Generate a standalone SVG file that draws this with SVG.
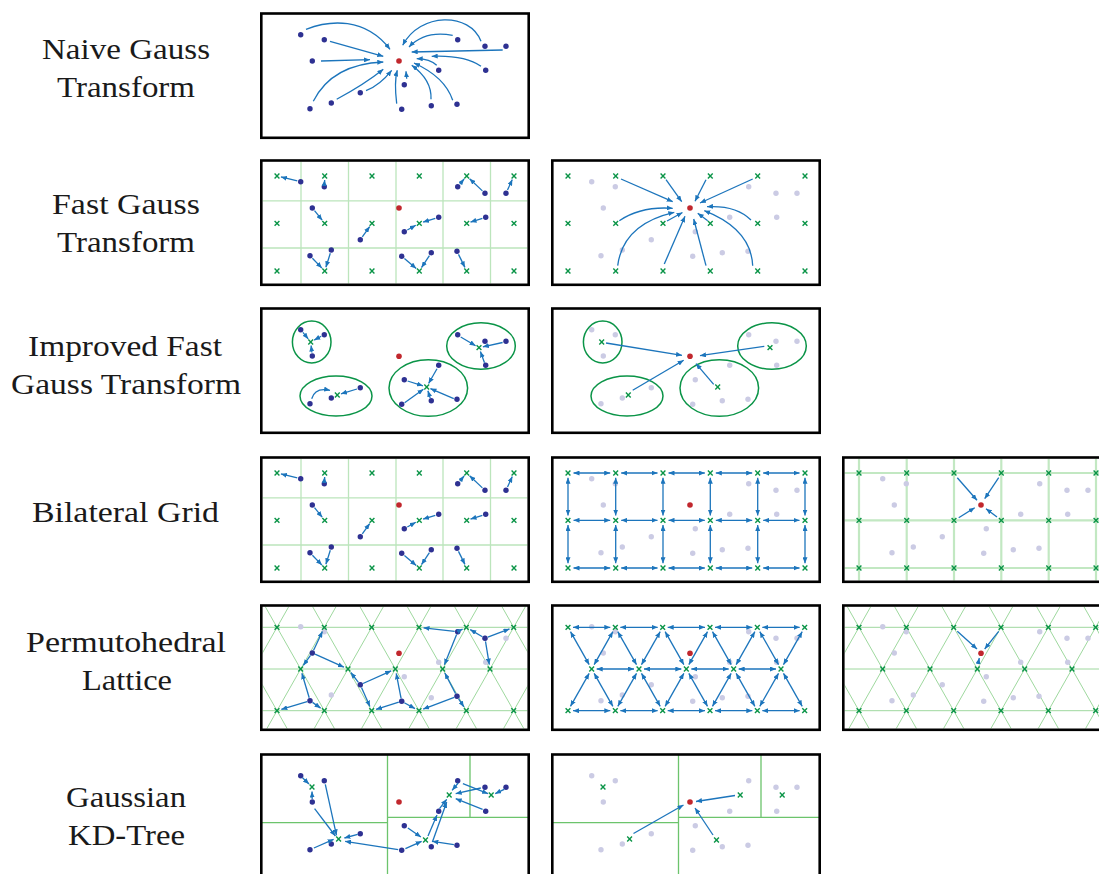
<svg xmlns="http://www.w3.org/2000/svg" width="1099" height="874" viewBox="0 0 1099 874">
<style>
.lbl{font-family:"Liberation Serif","Times New Roman",serif;font-size:30px;fill:#1a1a1a;text-anchor:middle}
.frame{fill:none;stroke:#000;stroke-width:2.6}
.ar{fill:none;stroke:#1C75BC;stroke-width:1.3;marker-end:url(#ah)}
.da{fill:none;stroke:#1C75BC;stroke-width:1.3;marker-end:url(#ah);marker-start:url(#ah)}
.grid{stroke:#BCE5BC;stroke-width:1.3;fill:none}
.grid2{stroke:#C2E8C2;stroke-width:2.2;fill:none}
.lat{stroke:#9ED89E;stroke-width:1;fill:none}
.kd{stroke:#6CC46C;stroke-width:1.3;fill:none}
.ell{fill:none;stroke:#0A9447;stroke-width:1.5}
</style>
<defs>
<marker id="ah" viewBox="0 0 6 5" refX="6" refY="2.5" markerWidth="6" markerHeight="5" markerUnits="userSpaceOnUse" orient="auto-start-reverse"><path d="M0,0L6,2.5L0,5z" fill="#1C75BC"/></marker>
<clipPath id="clip"><rect x="2.6" y="2.8" width="264.8" height="121.7"/></clipPath>
<circle id="bd" r="2.7" fill="#2E3192"/>
<circle id="gd" r="2.7" fill="#CBCBE4"/>
<circle id="rd" r="2.8" fill="#C1272D"/>
<path id="xm" d="M-2.4,-2.4L2.4,2.4M-2.4,2.4L2.4,-2.4" stroke="#0A9447" stroke-width="1.4" fill="none"/>
<g id="dotsBlue">
<use href="#bd" x="40.7" y="22.7"/><use href="#bd" x="64.3" y="27.7"/><use href="#bd" x="52.3" y="49"/><use href="#bd" x="50" y="96.7"/><use href="#bd" x="71.3" y="91"/><use href="#bd" x="100.3" y="80.7"/><use href="#bd" x="141.7" y="97.3"/><use href="#bd" x="144.3" y="72.7"/><use href="#bd" x="171.3" y="93.7"/><use href="#bd" x="197" y="92.3"/><use href="#bd" x="178.7" y="58.3"/><use href="#bd" x="225.7" y="58.3"/><use href="#bd" x="197.7" y="27.7"/><use href="#bd" x="225" y="34.3"/><use href="#bd" x="246" y="34.3"/>
</g>
<g id="dotsGrey">
<use href="#gd" x="40.7" y="22.7"/><use href="#gd" x="64.3" y="27.7"/><use href="#gd" x="52.3" y="49"/><use href="#gd" x="50" y="96.7"/><use href="#gd" x="71.3" y="91"/><use href="#gd" x="100.3" y="80.7"/><use href="#gd" x="141.7" y="97.3"/><use href="#gd" x="144.3" y="72.7"/><use href="#gd" x="171.3" y="93.7"/><use href="#gd" x="197" y="92.3"/><use href="#gd" x="178.7" y="58.3"/><use href="#gd" x="225.7" y="58.3"/><use href="#gd" x="197.7" y="27.7"/><use href="#gd" x="225" y="34.3"/><use href="#gd" x="246" y="34.3"/>
</g>
<g id="gridX">
<use href="#xm" x="17" y="17"/><use href="#xm" x="64.7" y="17"/><use href="#xm" x="112" y="17"/><use href="#xm" x="159.3" y="17"/><use href="#xm" x="206.7" y="17"/><use href="#xm" x="254" y="17"/>
<use href="#xm" x="17" y="64.3"/><use href="#xm" x="64.7" y="64.3"/><use href="#xm" x="112" y="64.3"/><use href="#xm" x="159.3" y="64.3"/><use href="#xm" x="206.7" y="64.3"/><use href="#xm" x="254" y="64.3"/>
<use href="#xm" x="17" y="112"/><use href="#xm" x="64.7" y="112"/><use href="#xm" x="112" y="112"/><use href="#xm" x="159.3" y="112"/><use href="#xm" x="206.7" y="112"/><use href="#xm" x="254" y="112"/>
</g>
<g id="fgtGrid" class="grid">
<path d="M41,0V127M88.5,0V127M136,0V127M183,0V127M230.5,0V127M0,41.8H270M0,89H270"/>
</g>
<g id="bgGrid" class="grid2">
<path d="M17,0V127M64.7,0V127M112,0V127M159.3,0V127M206.7,0V127M254,0V127M0,17H270M0,64.3H270M0,112H270"/>
</g>
<g id="latLines" class="lat">
<path d="M0,23.3H270M0,65H270M0,106.7H270"/>
<path d="M-43.55,130L31.94,-3M3.78,130L79.27,-3M51.11,130L126.6,-3M98.45,130L173.94,-3M145.78,130L221.27,-3M193.11,130L268.6,-3M240.45,130L315.94,-3"/>
<path d="M-45.26,-3L30.23,130M2.07,-3L77.56,130M49.4,-3L124.89,130M96.74,-3L172.23,130M144.07,-3L219.56,130M191.4,-3L266.89,130M238.74,-3L314.23,130"/>
</g>
<g id="latX">
<use href="#xm" x="17" y="23.3"/><use href="#xm" x="64.33" y="23.3"/><use href="#xm" x="111.67" y="23.3"/><use href="#xm" x="159" y="23.3"/><use href="#xm" x="206.33" y="23.3"/><use href="#xm" x="253.67" y="23.3"/>
<use href="#xm" x="40.67" y="65"/><use href="#xm" x="88" y="65"/><use href="#xm" x="135.33" y="65"/><use href="#xm" x="182.67" y="65"/><use href="#xm" x="230" y="65"/>
<use href="#xm" x="17" y="106.7"/><use href="#xm" x="64.33" y="106.7"/><use href="#xm" x="111.67" y="106.7"/><use href="#xm" x="159" y="106.7"/><use href="#xm" x="206.33" y="106.7"/><use href="#xm" x="253.67" y="106.7"/>
</g>
<g id="gridSplat">
<path class="ar" d="M37.3,21.9L20.9,17.9"/><path class="ar" d="M64.4,24.2L64.7,21"/><path class="ar" d="M54.5,51.7L62.2,61.2"/><path class="ar" d="M102.3,77.8L109.7,67.6"/><path class="ar" d="M147.3,71L155.8,66.3"/><path class="ar" d="M175.3,59.4L163.1,63.1"/><path class="ar" d="M222.4,59.4L210.5,63.1"/><path class="ar" d="M199.9,25L204.1,20"/><path class="ar" d="M222.4,31.9L209.6,19.8"/><path class="ar" d="M247.5,31.1L252.3,20.6"/><path class="ar" d="M52.4,99.2L61.9,109.1"/><path class="ar" d="M70.3,94.3L65.9,108.2"/><path class="ar" d="M144.4,99.5L156.2,109.4"/><path class="ar" d="M169.4,96.6L161.5,108.6"/><path class="ar" d="M198.5,95.4L204.9,108.4"/>
</g>
</defs>

<g id="labels">
<text class="lbl" x="126" y="59" textLength="168" lengthAdjust="spacingAndGlyphs">Naive Gauss</text>
<text class="lbl" x="126" y="97" textLength="138" lengthAdjust="spacingAndGlyphs">Transform</text>
<text class="lbl" x="126" y="214" textLength="148" lengthAdjust="spacingAndGlyphs">Fast Gauss</text>
<text class="lbl" x="126" y="252" textLength="138" lengthAdjust="spacingAndGlyphs">Transform</text>
<text class="lbl" x="125" y="356" textLength="194" lengthAdjust="spacingAndGlyphs">Improved Fast</text>
<text class="lbl" x="126" y="394" textLength="230" lengthAdjust="spacingAndGlyphs">Gauss Transform</text>
<text class="lbl" x="125.5" y="522" textLength="187" lengthAdjust="spacingAndGlyphs">Bilateral Grid</text>
<text class="lbl" x="126" y="652" textLength="200" lengthAdjust="spacingAndGlyphs">Permutohedral</text>
<text class="lbl" x="127" y="690" textLength="90" lengthAdjust="spacingAndGlyphs">Lattice</text>
<text class="lbl" x="126" y="807" textLength="120" lengthAdjust="spacingAndGlyphs">Gaussian</text>
<text class="lbl" x="126.5" y="845" textLength="117" lengthAdjust="spacingAndGlyphs">KD-Tree</text>
</g>

<!-- Row 1: Naive -->
<g id="naive" transform="translate(260,12)">
<use href="#dotsBlue"/>
<g class="connectors">
<path class="ar" d="M46,17.3C70,8 105,5 130,37.3"/>
<path class="ar" d="M70,29.3L123.3,44.3"/>
<path class="ar" d="M61,49L110,47.7"/>
<path class="ar" d="M53.3,89.3Q72,52 123.3,50"/>
<path class="ar" d="M76.7,87.3Q105,72 123.3,57.3"/>
<path class="ar" d="M106,78.7Q120,73 131.7,58.3"/>
<path class="ar" d="M136.7,91.7Q134,70 137.3,58.3"/>
<path class="ar" d="M146.7,66.7L146,59.3"/>
<path class="ar" d="M171,87.3Q172,68 151.7,53.3"/>
<path class="ar" d="M192.7,88.3Q185,65 154,51"/>
<path class="ar" d="M176.7,53.3Q170,47 156.7,46.7"/>
<path class="ar" d="M221,54.3Q205,43 171.7,44.3"/>
<path class="ar" d="M192.7,23.3Q165,18 149,35"/>
<path class="ar" d="M221,29.3C210,0 160,0 142.7,33.3"/>
<path class="ar" d="M242.7,38L151.7,40"/>
</g>
<use href="#rd" x="139" y="49"/>
<rect class="frame" x="1.3" y="1.5" width="267.4" height="124.3"/>
</g>

<!-- Row 2: FGT -->
<g id="fgt1" transform="translate(260,159)">
<g clip-path="url(#clip)"><use href="#fgtGrid"/></g>
<use href="#gridX"/>
<use href="#dotsBlue"/>
<g class="connectors"><use href="#gridSplat"/></g>
<use href="#rd" x="139" y="49"/>
<rect class="frame" x="1.3" y="1.5" width="267.4" height="124.3"/>
</g>

<g id="fgt2" transform="translate(551,159)">
<use href="#dotsGrey"/>
<use href="#gridX"/>
<g class="connectors">
<path class="ar" d="M70,20L121.7,42.7"/>
<path class="ar" d="M115,20.7L130.7,42.7"/>
<path class="ar" d="M155,20.7L144,42.3"/>
<path class="ar" d="M201.7,20L149,44"/>
<path class="ar" d="M68.3,61.7Q90,47 121.7,49.3"/>
<path class="ar" d="M116,62L131.5,53.5"/>
<path class="ar" d="M156.7,61.7L146.7,54.3"/>
<path class="ar" d="M200,61Q185,46 156,47.7"/>
<path class="ar" d="M66.7,106.7Q72,65 123.3,53.3"/>
<path class="ar" d="M113.3,105L134,57.3"/>
<path class="ar" d="M155,106.7L142.7,60"/>
<path class="ar" d="M201.7,106.7Q200,70 153.3,51.7"/>
</g>
<use href="#rd" x="139" y="49"/>
<rect class="frame" x="1.3" y="1.5" width="267.4" height="124.3"/>
</g>

<!-- Row 3: IFGT -->
<g id="ifgt1" transform="translate(260,307)">
<ellipse class="ell" cx="51.7" cy="35" rx="19.3" ry="21"/>
<ellipse class="ell" cx="76" cy="89" rx="36" ry="20"/>
<ellipse class="ell" cx="168.3" cy="81" rx="39.3" ry="28.3"/>
<ellipse class="ell" cx="221" cy="39" rx="34.3" ry="23.3"/>
<use href="#xm" x="50.7" y="35"/><use href="#xm" x="77.3" y="88"/><use href="#xm" x="166.7" y="80"/><use href="#xm" x="219" y="40.7"/>
<use href="#dotsBlue"/>
<g class="connectors">
<path class="ar" d="M42.9,25.4L48.2,31.9"/>
<path class="ar" d="M61.2,29.3L54.2,33.1"/>
<path class="ar" d="M51.9,45.5L51.1,38.5"/>
<path class="ar" d="M51.7,91.7Q55,80 70,83.3"/>
<path class="ar" d="M97,82L81,86.8"/>
<path class="ar" d="M147.6,74L162.9,78.8"/>
<path class="ar" d="M177,61.7L168.6,76.5"/>
<path class="ar" d="M144.6,95.7L163.4,82.3"/>
<path class="ar" d="M170.2,91L167.9,83.8"/>
<path class="ar" d="M193.8,91.6L170.4,81.6"/>
<path class="ar" d="M200.7,30L215.6,38.7"/>
<path class="ar" d="M242.6,35.5L222.9,39.8"/>
<path class="ar" d="M224.5,55.7L220.4,44.5"/>
</g>
<use href="#rd" x="139" y="49.3"/>
<rect class="frame" x="1.3" y="1.5" width="267.4" height="124.3"/>
</g>

<g id="ifgt2" transform="translate(551,307)">
<use href="#dotsGrey"/>
<ellipse class="ell" cx="51.7" cy="35" rx="19.3" ry="21"/>
<ellipse class="ell" cx="76" cy="89" rx="36" ry="20"/>
<ellipse class="ell" cx="168.3" cy="81" rx="39.3" ry="28.3"/>
<ellipse class="ell" cx="221" cy="39" rx="34.3" ry="23.3"/>
<use href="#xm" x="50.7" y="35"/><use href="#xm" x="77.3" y="88"/><use href="#xm" x="166.7" y="80"/><use href="#xm" x="219" y="40.7"/>
<g class="connectors">
<path class="ar" d="M55,36L131,48.3"/>
<path class="ar" d="M81.7,83.3L132.7,53.3"/>
<path class="ar" d="M162.7,77.3L145,56.7"/>
<path class="ar" d="M213.3,39.3L149,48.7"/>
</g>
<use href="#rd" x="139" y="49.3"/>
<rect class="frame" x="1.3" y="1.5" width="267.4" height="124.3"/>
</g>

<!-- Row 4: Bilateral grid -->
<g id="bg1" transform="translate(260,456)">
<g clip-path="url(#clip)"><use href="#fgtGrid"/></g>
<use href="#gridX"/>
<use href="#dotsBlue"/>
<g class="connectors"><use href="#gridSplat"/></g>
<use href="#rd" x="139" y="49"/>
<rect class="frame" x="1.3" y="1.5" width="267.4" height="124.3"/>
</g>

<g id="bg2" transform="translate(551,456)">
<use href="#dotsGrey"/>
<use href="#gridX"/>
<g class="connectors">
<path class="da" d="M22.5,17H59.2"/><path class="da" d="M70.2,17H106.5"/><path class="da" d="M117.5,17H153.8"/><path class="da" d="M164.8,17H201.2"/><path class="da" d="M212.2,17H248.5"/>
<path class="da" d="M22.5,64.3H59.2"/><path class="da" d="M70.2,64.3H106.5"/><path class="da" d="M117.5,64.3H153.8"/><path class="da" d="M164.8,64.3H201.2"/><path class="da" d="M212.2,64.3H248.5"/>
<path class="da" d="M22.5,112H59.2"/><path class="da" d="M70.2,112H106.5"/><path class="da" d="M117.5,112H153.8"/><path class="da" d="M164.8,112H201.2"/><path class="da" d="M212.2,112H248.5"/>
<path class="da" d="M17,21.7V59.6"/><path class="da" d="M64.7,21.7V59.6"/><path class="da" d="M112,21.7V59.6"/><path class="da" d="M159.3,21.7V59.6"/><path class="da" d="M206.7,21.7V59.6"/><path class="da" d="M254,21.7V59.6"/>
<path class="da" d="M17,69V107.3"/><path class="da" d="M64.7,69V107.3"/><path class="da" d="M112,69V107.3"/><path class="da" d="M159.3,69V107.3"/><path class="da" d="M206.7,69V107.3"/><path class="da" d="M254,69V107.3"/>
</g>
<use href="#rd" x="139" y="49"/>
<rect class="frame" x="1.3" y="1.5" width="267.4" height="124.3"/>
</g>

<g id="bg3" transform="translate(842,456)">
<g clip-path="url(#clip)"><use href="#bgGrid"/></g>
<use href="#dotsGrey"/>
<use href="#gridX"/>
<g class="connectors">
<path class="ar" d="M115.3,21.7L135,44.3"/>
<path class="ar" d="M156.7,21.7L142.7,42.7"/>
<path class="ar" d="M116.7,61.7L132.7,51.7"/>
<path class="ar" d="M155,61L144,52.7"/>
</g>
<use href="#rd" x="139" y="49"/>
<rect class="frame" x="1.3" y="1.5" width="267.4" height="124.3"/>
</g>

<!-- Row 5: Permutohedral lattice -->
<g id="pl1" transform="translate(260,604)">
<g clip-path="url(#clip)"><use href="#latLines"/></g>
<use href="#dotsGrey"/>
<use href="#latX"/>
<use href="#bd" x="52.3" y="49"/><use href="#bd" x="50" y="96.7"/><use href="#bd" x="100.3" y="80.7"/><use href="#bd" x="141.7" y="97.3"/><use href="#bd" x="197" y="92.3"/><use href="#bd" x="197.7" y="27.7"/><use href="#bd" x="225" y="34.3"/>
<g class="connectors">
<path class="ar" d="M53.6,46.3L62.4,27.4"/><path class="ar" d="M50.5,51.4L43.3,61.4"/><path class="ar" d="M55,50.2L83.9,63.2"/>
<path class="ar" d="M49.2,93.8L41.9,69.3"/><path class="ar" d="M47.1,97.6L21.3,105.4"/><path class="ar" d="M52.5,98.4L60.6,104.1"/>
<path class="ar" d="M98.4,78.3L90.8,68.5"/><path class="ar" d="M103,79.5L131.2,66.8"/><path class="ar" d="M101.5,83.4L109.9,102.6"/>
<path class="ar" d="M141.1,94.4L136.2,69.4"/><path class="ar" d="M138.8,98.2L116,105.4"/><path class="ar" d="M144.3,98.7L155,104.6"/>
<path class="ar" d="M195.6,89.6L184.8,69"/><path class="ar" d="M194.2,93.4L163.2,105.1"/><path class="ar" d="M198.6,94.8L203.9,102.9"/>
<path class="ar" d="M194.7,27.4L163.5,23.8"/><path class="ar" d="M200,26.4L202.6,25.1"/><path class="ar" d="M196.6,30.5L184.4,60.8"/>
<path class="ar" d="M222.4,32.8L210.2,25.6"/><path class="ar" d="M227.8,33.2L249.5,24.9"/><path class="ar" d="M225.5,37.3L229.3,60.6"/>
</g>
<use href="#rd" x="139" y="49.3"/>
<rect class="frame" x="1.3" y="1.5" width="267.4" height="124.3"/>
</g>

<g id="pl2" transform="translate(551,604)">
<use href="#dotsGrey"/>
<use href="#latX"/>
<g class="connectors">
<path class="da" d="M22,23.3H59.33"/><path class="da" d="M69.33,23.3H106.67"/><path class="da" d="M116.67,23.3H154"/><path class="da" d="M164,23.3H201.33"/><path class="da" d="M211.33,23.3H248.67"/>
<path class="da" d="M22,106.7H59.33"/><path class="da" d="M69.33,106.7H106.67"/><path class="da" d="M116.67,106.7H154"/><path class="da" d="M164,106.7H201.33"/><path class="da" d="M211.33,106.7H248.67"/>
<path class="da" d="M45.67,65H83"/><path class="da" d="M93,65H130.33"/><path class="da" d="M140.33,65H177.67"/><path class="da" d="M187.67,65H225"/>
<path class="da" d="M38.2,60.65L19.47,27.65"/><path class="da" d="M43.14,60.65L61.86,27.65"/><path class="da" d="M38.2,69.35L19.47,102.35"/><path class="da" d="M43.14,69.35L61.86,102.35"/>
<path class="da" d="M85.53,60.65L66.8,27.65"/><path class="da" d="M90.47,60.65L109.2,27.65"/><path class="da" d="M85.53,69.35L66.8,102.35"/><path class="da" d="M90.47,69.35L109.2,102.35"/>
<path class="da" d="M132.86,60.65L114.14,27.65"/><path class="da" d="M137.8,60.65L156.53,27.65"/><path class="da" d="M132.86,69.35L114.14,102.35"/><path class="da" d="M137.8,69.35L156.53,102.35"/>
<path class="da" d="M180.2,60.65L161.47,27.65"/><path class="da" d="M185.14,60.65L203.86,27.65"/><path class="da" d="M180.2,69.35L161.47,102.35"/><path class="da" d="M185.14,69.35L203.86,102.35"/>
<path class="da" d="M227.53,60.65L208.8,27.65"/><path class="da" d="M232.47,60.65L251.2,27.65"/><path class="da" d="M227.53,69.35L208.8,102.35"/><path class="da" d="M232.47,69.35L251.2,102.35"/>
</g>
<use href="#rd" x="139" y="49.3"/>
<rect class="frame" x="1.3" y="1.5" width="267.4" height="124.3"/>
</g>

<g id="pl3" transform="translate(842,604)">
<g clip-path="url(#clip)"><use href="#latLines"/></g>
<use href="#dotsGrey"/>
<use href="#latX"/>
<g class="connectors">
<path class="ar" d="M115.3,27.3L135,45"/>
<path class="ar" d="M156.7,27.3L142.7,45"/>
<path class="ar" d="M136,60L137.3,54"/>
</g>
<use href="#rd" x="139" y="49.3"/>
<rect class="frame" x="1.3" y="1.5" width="267.4" height="124.3"/>
</g>

<!-- Row 6: Gaussian KD-tree -->
<g id="kd1" transform="translate(260,753)">
<path class="kd" d="M127.5,2V125M2,69.7H127.5M127.5,64.3H268M210,2V64.3"/>
<use href="#xm" x="52" y="34"/><use href="#xm" x="78.6" y="86"/><use href="#xm" x="189.2" y="42"/><use href="#xm" x="231.2" y="42"/><use href="#xm" x="165.5" y="87"/>
<use href="#dotsBlue"/>
<g class="connectors">
<path class="ar" d="M42.5,24.8L49,31"/>
<path class="ar" d="M52.2,46L52,38.5"/>
<path class="ar" d="M65.3,31.3L76.5,82.3"/>
<path class="ar" d="M54.6,55.7L75.4,83"/>
<path class="ar" d="M53.9,95L73.6,86.3"/>
<path class="ar" d="M97.7,81.3L84.4,85"/>
<path class="ar" d="M138.2,96.7L85.1,88.3"/>
<path class="ar" d="M145.4,95.7L161.6,88.3"/>
<path class="ar" d="M147.9,75L160.9,84"/>
<path class="ar" d="M193.9,91.7L172.4,88.3"/>
<path class="ar" d="M222.6,56.3L195.7,45.7"/>
<path class="ar" d="M220.8,35L195.7,40.7"/>
<path class="ar" d="M198.2,30L192.1,37.3"/>
<path class="ar" d="M202.9,30.7L228,40.7"/>
<path class="ar" d="M244.2,36.3L235.2,40.7"/>
<path class="ar" d="M179.5,55.7L186.7,46.3"/>
<path class="ar" d="M172.4,89L186.7,49"/>
<path class="ar" d="M168,83L177,62"/>
</g>
<use href="#rd" x="139" y="49"/>
<rect class="frame" x="1.3" y="1.5" width="267.4" height="130"/>
</g>

<g id="kd2" transform="translate(551,753)">
<path class="kd" d="M127.5,2V125M2,69.7H127.5M127.5,64.3H268M210,2V64.3"/>
<use href="#dotsGrey"/>
<use href="#xm" x="52" y="34"/><use href="#xm" x="78.6" y="86"/><use href="#xm" x="189.2" y="42"/><use href="#xm" x="231.2" y="42"/><use href="#xm" x="165.5" y="87"/>
<g class="connectors">
<path class="ar" d="M82.5,80.5L132.5,52"/>
<path class="ar" d="M184,42.5L145,48.5"/>
<path class="ar" d="M162,82L144,55"/>
</g>
<use href="#rd" x="139" y="49"/>
<rect class="frame" x="1.3" y="1.5" width="267.4" height="130"/>
</g>
</svg>
